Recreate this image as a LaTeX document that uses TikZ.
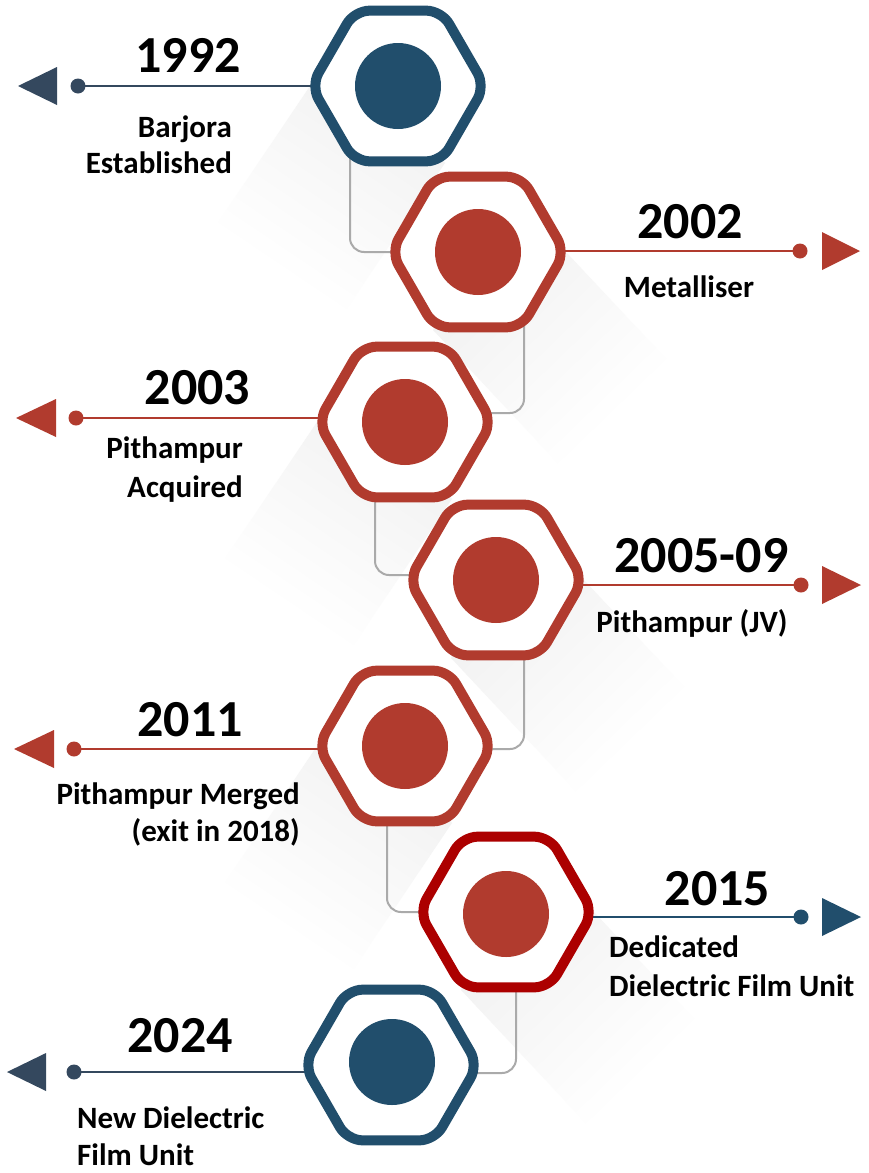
\documentclass[tikz,border=0pt]{standalone}
\usepackage{fontspec}
\setmainfont{Carlito}
\usetikzlibrary{shapes.geometric,calc}
\definecolor{hblue}{RGB}{33,78,108}
\definecolor{hred}{RGB}{177,59,46}
\definecolor{hdred}{RGB}{172,0,0}
\definecolor{slate}{RGB}{52,72,94}
\definecolor{conncol}{RGB}{170,170,170}
\pgfdeclareverticalshading{shfade}{100bp}{color(0bp)=(white); color(38bp)=(white); color(75bp)=(black!5); color(100bp)=(black!11)}
\begin{document}
\begin{tikzpicture}[x=1pt,y=-1pt,
  hexa/.style={regular polygon, regular polygon sides=6, minimum size=174pt, inner sep=0pt, draw=#1, line width=10pt, fill=white, rounded corners=15pt},
  disc/.style={circle, fill=#1, minimum size=86pt, inner sep=0pt},
  tdot/.style={circle, fill=#1, minimum size=15pt, inner sep=0pt},
  tl/.style={line width=2.5pt, draw=#1},
  conn/.style={draw=conncol, line width=2pt, rounded corners=14pt},
  year/.style={font=\fontsize{52}{52}\selectfont\bfseries, inner sep=0pt, anchor=base},
  lab/.style={font=\fontsize{31}{31}\selectfont\bfseries, inner sep=0pt},
  shL/.style={shading=shfade, shading angle=-34, draw=none},
  shR/.style={shading=shfade, shading angle=44, draw=none},
]
\fill[white] (0,0) rectangle (869,1173);
\useasboundingbox (0,0) rectangle (869,1173);

% centres
\coordinate (c1) at (398,86);
\coordinate (c2) at (478,252);
\coordinate (c3) at (405,422);
\coordinate (c4) at (496,580);
\coordinate (c5) at (405,746);
\coordinate (c6) at (506,912);
\coordinate (c7) at (391,1065);

% long shadows
\foreach \c in {c1,c3,c5}{
  \shade[shL] ($(\c)+(-88,0)$) -- (\c) -- ($(\c)+(47,77)$) -- ++(-128,190) -- ($(\c)+(-216,190)$) -- cycle;
}
\foreach \c in {c2,c4,c6}{
  \shade[shR] ($(\c)+(88,0)$) -- (\c) -- ($(\c)+(-45,78)$) -- ++(150,160) -- ($(\c)+(238,160)$) -- cycle;
}

% grey connectors
\draw[conn] ($(c1)+(-48,0)$) |- (c2);
\draw[conn] ($(c2)+(46,0)$) |- ($(c3)+(0,-9)$);
\draw[conn] ($(c3)+(-30,0)$) |- ($(c4)+(0,-5)$);
\draw[conn] ($(c4)+(28,0)$) |- ($(c5)+(0,3)$);
\draw[conn] ($(c5)+(-18,0)$) |- (c6);
\draw[conn] ($(c6)+(10,0)$) |- ($(c7)+(0,8)$);

% timeline lines
\coordinate (p1) at (78,86);
\coordinate (p2) at (800,251);
\coordinate (p3) at (76,418);
\coordinate (p4) at (801,585);
\coordinate (p5) at (74,749);
\coordinate (p6) at (801,917);
\coordinate (p7) at (74,1072);
\draw[tl=slate] (p1) -- (p1 -| c1);
\draw[tl=hred] (p2) -- (p2 -| c2);
\draw[tl=hred] (p3) -- (p3 -| c3);
\draw[tl=hred] (p4) -- (p4 -| c4);
\draw[tl=hred] (p5) -- (p5 -| c5);
\draw[tl=hblue] (p6) -- (p6 -| c6);
\draw[tl=slate] (p7) -- (p7 -| c7);

% dots
\node[tdot=slate] (d1) at (p1) {};
\node[tdot=hred] (d2) at (p2) {};
\node[tdot=hred] (d3) at (p3) {};
\node[tdot=hred] (d4) at (p4) {};
\node[tdot=hred] (d5) at (p5) {};
\node[tdot=hblue] (d6) at (p6) {};
\node[tdot=slate] (d7) at (p7) {};

% arrow heads
\fill[slate] ($(p1)+(-60,0)$) -- ++(39,-19) -- ++(0,38) -- cycle;
\fill[hred] ($(p2)+(22,-19)$) -- ++(0,38) -- ++(38,-19) -- cycle;
\fill[hred] ($(p3)+(-60,0)$) -- ++(40,-19) -- ++(0,38) -- cycle;
\fill[hred] ($(p4)+(21,-19)$) -- ++(0,38) -- ++(39,-19) -- cycle;
\fill[hred] ($(p5)+(-60,0)$) -- ++(40,-19) -- ++(0,38) -- cycle;
\fill[hblue] ($(p6)+(21,-19)$) -- ++(0,38) -- ++(39,-19) -- cycle;
\fill[slate] ($(p7)+(-67,0)$) -- ++(39,-19) -- ++(0,38) -- cycle;

% hexagons and discs
\node[hexa=hblue] (h1) at (c1) {};
\node[hexa=hred]  (h2) at (c2) {};
\node[hexa=hred]  (h3) at (c3) {};
\node[hexa=hred]  (h4) at (c4) {};
\node[hexa=hred]  (h5) at (c5) {};
\node[hexa=hdred] (h6) at (c6) {};
\node[hexa=hblue] (h7) at (c7) {};
\node[disc=hblue] (k1) at (c1) {};
\node[disc=hred]  (k2) at (c2) {};
\node[disc=hred]  (k3) at (c3) {};
\node[disc=hred]  (k4) at (c4) {};
\node[disc=hred]  (k5) at (c5) {};
\node[disc=hred]  (k6) at (506,914) {};
\node[disc=hblue] (k7) at (392,1062) {};

% texts
\node[year] (y1) at (188,72) {1992};
\node[lab, anchor=base east] (t1a) at (232,137) {Barjora};
\node[lab, anchor=base east] (t1b) at (232,173) {Established};

\node[year] (y2) at (690,238) {2002};
\node[lab, anchor=base] (t2a) at (689,297) {Metalliser};

\node[year] (y3) at (197.5,404) {2003};
\node[lab, anchor=base east] (t3a) at (243,458) {Pithampur};
\node[lab, anchor=base east] (t3b) at (243,497) {Acquired};

\node[year] (y4) at (701.5,572) {2005-09};
\node[lab, anchor=base] (t4a) at (692,632) {Pithampur (JV)};

\node[year] (y5) at (190,736) {2011};
\node[lab, anchor=base east] (t5a) at (300,804) {Pithampur Merged};
\node[lab, anchor=base east] (t5b) at (300,841) {(exit in 2018)};

\node[year] (y6) at (717.5,905) {2015};
\node[lab, anchor=base west] (t6a) at (609,957) {Dedicated};
\node[lab, anchor=base west] (t6b) at (609,996) {Dielectric Film Unit};

\node[year] (y7) at (180,1052) {2024};
\node[lab, anchor=base west] (t7a) at (77,1128) {New Dielectric};
\node[lab, anchor=base west] (t7b) at (77,1165) {Film Unit};
\end{tikzpicture}
\end{document}
